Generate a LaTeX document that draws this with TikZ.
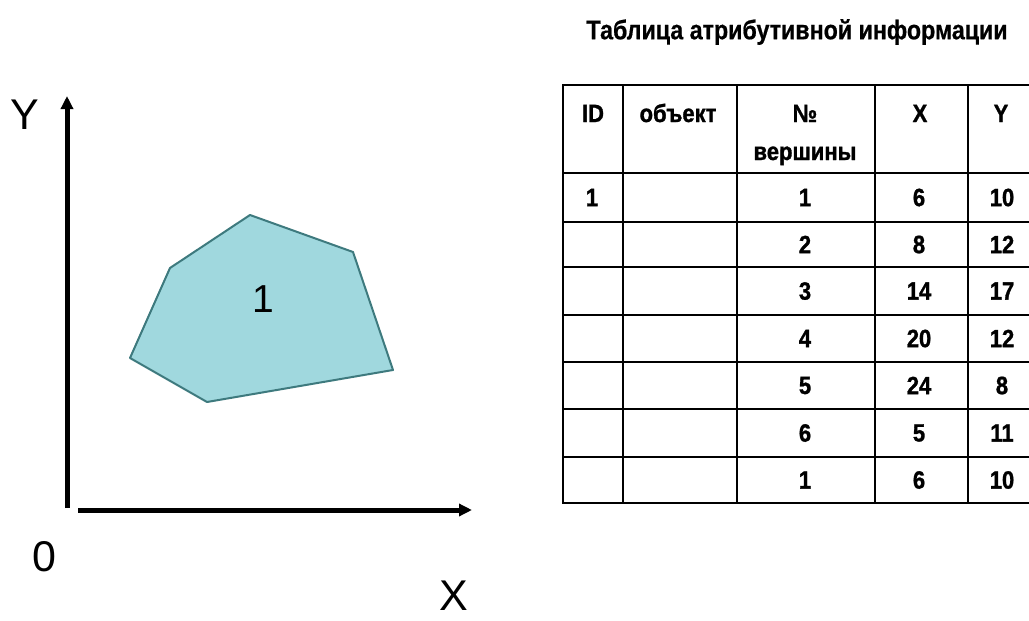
\documentclass[tikz,border=0pt]{standalone}
\usepackage{fontspec}
\setmainfont{Liberation Sans}
\newfontfamily\narrow{Liberation Sans}[FakeStretch=0.88,BoldFeatures={FakeBold=1.2}]
\newfontfamily\narrowt{Liberation Sans}[FakeStretch=0.86,BoldFeatures={FakeBold=0.6}]
\usetikzlibrary{arrows.meta}
\definecolor{polyfill}{RGB}{160,216,222}
\definecolor{polyline}{RGB}{62,122,126}
\begin{document}
\begin{tikzpicture}[x=1pt,y=-1pt,
  axis/.style={line width=5pt,-{Triangle[length=13pt,width=12pt]}},
  grid/.style={line width=2.6pt,line cap=rect},
  axlabel/.style={inner sep=0pt,font=\fontsize{43}{50}\selectfont},
  cell/.style={inner sep=0pt,font=\narrow\bfseries\fontsize{25}{30}\selectfont},
  ttl/.style={inner sep=0pt,font=\narrowt\bfseries\fontsize{27}{32}\selectfont}]
\useasboundingbox (0,0) rectangle (1029,621);
\fill[white] (0,0) rectangle (1029,621);
% axes
\coordinate (yb) at (67,508);
\coordinate (yt) at (67,96);
\coordinate (xl) at (78,510);
\coordinate (xr) at (472,510);
\draw[axis] (yb) -- (yt);
\draw[axis] (xl) -- (xr);
\node[axlabel] (ylab) at (25,115) {Y};
\node[axlabel] (olab) at (44,557) {0};
\node[axlabel] (xlab) at (454,596) {X};
% polygon
\coordinate (p1) at (250,215);
\coordinate (p2) at (353,252);
\coordinate (p3) at (393,370);
\coordinate (p4) at (207,402);
\coordinate (p5) at (130,358);
\coordinate (p6) at (170,268);
\filldraw[fill=polyfill,draw=polyline,line width=2pt,line join=round] (p1) -- (p2) -- (p3) -- (p4) -- (p5) -- (p6) -- cycle;
\node[axlabel,font=\fontsize{39}{45}\selectfont] (plab) at (263,299) {1};
% title
\node[ttl] (title) at (797,32) {Таблица атрибутивной информации};
% table grid
\foreach \yy in {85,173,222,267,315,362,409,457,503}
  \draw[grid] (563,\yy) -- (1040,\yy);
\foreach \xx in {563,623,737,875,968}
  \draw[grid] (\xx,85) -- (\xx,503);
% header
\node[cell,anchor=base] (hid) at (593,122) {ID};
\node[cell,anchor=base] (hobj) at (678,122) {объект};
\node[cell,anchor=base] (hno) at (805,122) {№};
\node[cell,anchor=base] (hno2) at (805,160) {вершины};
\node[cell,anchor=base] (hx) at (920,122) {X};
\node[cell,anchor=base] (hy) at (1001,122) {Y};
% data
\node[cell] (id1) at (592,197.5) {1};
\foreach \n/\yy/\a/\b/\c in {1/197.5/1/6/10, 2/244.5/2/8/12, 3/291/3/14/17, 4/338.5/4/20/12, 5/385.5/5/24/8, 6/433/6/5/11, 7/480/1/6/10}{
  \node[cell] (n\n) at (805,\yy) {\a};
  \node[cell] (x\n) at (919,\yy) {\b};
  \node[cell] (y\n) at (1002,\yy) {\c};
}
\end{tikzpicture}
\end{document}
